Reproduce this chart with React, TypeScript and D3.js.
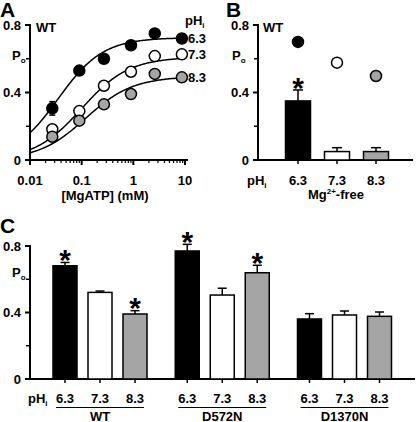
import React from "react";
import * as d3 from "d3";

// Panel A data
const atpConc = [0.027, 0.09, 0.27, 0.9, 2.6, 8.7];
const phLabels = ["6.3", "7.3", "8.3"];
const poA63 = [0.306, 0.53, 0.6, 0.68, 0.75, 0.72];
const poA73 = [0.182, 0.29, 0.44, 0.523, 0.616, 0.626];
const poA83 = [0.138, 0.233, 0.33, 0.391, 0.51, 0.49];
const errA63 = [0.04, 0, 0, 0, 0, 0];
const errA73 = [0, 0, 0, 0, 0, 0];
const errA83 = [0, 0, 0, 0, 0.025, 0];
// Hill fit parameters per pH: Pmax, Kd (mM), Hill coefficient
const fitPmax = [0.725, 0.61, 0.495];
const fitK = [0.035, 0.1, 0.12];
const fitN = [1.0, 0.95, 0.95];

// Panel B data (Mg2+-free)
const poBBars = [0.35, 0.05, 0.05];
const errBBars = [0.065, 0.023, 0.023];
const poBRef = [0.7, 0.577, 0.498];
const sigB = [true, false, false];

// Panel C data
const groupsC = ["WT", "D572N", "D1370N"];
const poC = [
  [0.681, 0.521, 0.391],
  [0.77, 0.505, 0.639],
  [0.361, 0.385, 0.377],
];
const errC = [
  [0.02, 0.008, 0.02],
  [0.04, 0.041, 0.045],
  [0.032, 0.024, 0.026],
];
const sigC = [
  [true, false, true],
  [true, false, true],
  [false, false, false],
];

const yTicksMajor = [0, 0.4, 0.8];
const yTicksMinor = [0.2, 0.6];
const fills = ["#000000", "#ffffff", "#a5a5a5"];

const FONT = "'Liberation Sans', Arial, Helvetica, sans-serif";

function YAxis({ y, x0, x1 }: { y: d3.ScaleLinear<number, number>; x0: number; x1: number }) {
  return (
    <g>
      <line x1={x0} x2={x0} y1={y(0)} y2={y(0.8) - 1} stroke="#000" strokeWidth={2} />
      <line x1={x0 - 1} x2={x1} y1={y(0)} y2={y(0)} stroke="#000" strokeWidth={2} />
      {yTicksMajor.map((t) => (
        <g key={"M" + t}>
          <line x1={x0 - 5} x2={x0} y1={y(t)} y2={y(t)} stroke="#000" strokeWidth={2} />
          <text x={x0 - 9} y={y(t) + 4.5} textAnchor="end" fontSize={13} fontWeight="bold">
            {t === 0 ? "0" : t.toFixed(1)}
          </text>
        </g>
      ))}
      {yTicksMinor.map((t) => (
        <line key={"m" + t} x1={x0 - 4} x2={x0} y1={y(t)} y2={y(t)} stroke="#000" strokeWidth={1.5} />
      ))}
    </g>
  );
}

function PoLabel({ x, y }: { x: number; y: number }) {
  return (
    <text x={x} y={y} fontSize={13} fontWeight="bold">
      P<tspan fontSize={8} dy={3}>o</tspan>
    </text>
  );
}

function Asterisk({ x, cy }: { x: number; cy: number }) {
  return (
    <text x={x} y={cy + 15} textAnchor="middle" fontSize={30} fontWeight="bold">
      *
    </text>
  );
}

export default function App() {
  // Panel A
  const xA = d3.scaleLog().domain([0.01, 10]).range([30, 185]);
  const yA = d3.scaleLinear().domain([0, 0.8]).range([160, 25]);
  const seriesA = [poA63, poA73, poA83];
  const errsA = [errA63, errA73, errA83];
  const fitX = d3.range(0, 121).map((i) => 0.01 * Math.pow(10, (i / 120) * Math.log10(9.2 / 0.01)));
  const line = d3
    .line<number>()
    .x((d) => xA(d))
    .curve(d3.curveLinear);
  const logTicks = xA.ticks();

  // Panel B
  const xB = d3.scalePoint<string>().domain(phLabels).range([298, 376]);
  const yB = yA;
  const bwB = 25;

  // Panel C
  const xCg = d3.scalePoint<string>().domain(groupsC).range([100, 344.5]);
  const xCi = d3.scalePoint<string>().domain(phLabels).range([-35, 35]);
  const yC = d3.scaleLinear().domain([0, 0.8]).range([379, 246]);
  const bwC = 24;

  return (
    <svg width={416} height={422} style={{ position: "absolute", left: 0, top: 0 }} fontFamily={FONT}>
      <rect width={416} height={422} fill="#fff" />
      {/* ---------- Panel A ---------- */}
      <text x={0} y={16.5} fontSize={21} fontWeight="bold">A</text>
      <text x={36} y={32} fontSize={13} fontWeight="bold">WT</text>
      <PoLabel x={12} y={60} />
      <YAxis y={yA} x0={30} x1={188} />
      {logTicks.map((t, i) => {
        const major = Math.abs(Math.log10(t) - Math.round(Math.log10(t))) < 1e-6;
        return (
          <line key={i} x1={xA(t)} x2={xA(t)} y1={yA(0)} y2={yA(0) + (major ? 5 : 3)} stroke="#000" strokeWidth={major ? 2 : 1.2} />
        );
      })}
      {[0.01, 0.1, 1, 10].map((t) => (
        <text key={t} x={xA(t)} y={185} textAnchor="middle" fontSize={13} fontWeight="bold">
          {String(t)}
        </text>
      ))}
      <text x={105} y={200} textAnchor="middle" fontSize={13} fontWeight="bold">[MgATP] (mM)</text>
      {seriesA.map((_, k) => {
        const path = line.y((d) => yA((fitPmax[k] * Math.pow(d, fitN[k])) / (Math.pow(d, fitN[k]) + Math.pow(fitK[k], fitN[k]))))(fitX);
        return <path key={"fit" + k} d={path || ""} fill="none" stroke="#000" strokeWidth={1.5} />;
      })}
      {seriesA.map((s, k) =>
        s.map((v, i) => (
          <g key={"pt" + k + "-" + i}>
            {errsA[k][i] > 0 && (
              <g stroke="#000" strokeWidth={1.5}>
                <line x1={xA(atpConc[i])} x2={xA(atpConc[i])} y1={yA(v - errsA[k][i])} y2={yA(v + errsA[k][i])} />
                <line x1={xA(atpConc[i]) - 3} x2={xA(atpConc[i]) + 3} y1={yA(v + errsA[k][i])} y2={yA(v + errsA[k][i])} />
                <line x1={xA(atpConc[i]) - 3} x2={xA(atpConc[i]) + 3} y1={yA(v - errsA[k][i])} y2={yA(v - errsA[k][i])} />
              </g>
            )}
            <circle cx={xA(atpConc[i])} cy={yA(v)} r={5.5} fill={fills[k]} stroke="#000" strokeWidth={1.5} />
          </g>
        ))
      )}
      <text x={185} y={25} fontSize={13} fontWeight="bold">
        pH<tspan fontSize={8} dy={3}>i</tspan>
      </text>
      {phLabels.map((p, k) => (
        <text key={"lbl" + p} x={188} y={yA(seriesA[k][5]) + 4.5} fontSize={13} fontWeight="bold">{p}</text>
      ))}

      {/* ---------- Panel B ---------- */}
      <text x={226} y={16.5} fontSize={21} fontWeight="bold">B</text>
      <text x={263} y={32} fontSize={13} fontWeight="bold">WT</text>
      <PoLabel x={232} y={60} />
      <YAxis y={yB} x0={258} x1={413} />
      {phLabels.map((p, k) => {
        const cx = xB(p) as number;
        const top = yB(poBBars[k]);
        const et = yB(poBBars[k] + errBBars[k]);
        return (
          <g key={"b" + p}>
            <line x1={cx} x2={cx} y1={et} y2={top} stroke="#000" strokeWidth={1.5} />
            <line x1={cx - 5} x2={cx + 5} y1={et} y2={et} stroke="#000" strokeWidth={1.5} />
            <rect x={cx - bwB / 2} y={top} width={bwB} height={yB(0) - top} fill={fills[k]} stroke="#000" strokeWidth={1.5} />
            <line x1={cx} x2={cx} y1={yB(0)} y2={yB(0) + 4} stroke="#000" strokeWidth={1.5} />
            <circle cx={cx} cy={yB(poBRef[k])} r={5.5} fill={fills[k]} stroke="#000" strokeWidth={1.5} />
            {sigB[k] && <Asterisk x={cx} cy={et - 7} />}
            <text x={cx} y={185} textAnchor="middle" fontSize={13} fontWeight="bold">{p}</text>
          </g>
        );
      })}
      <text x={247} y={185} fontSize={13} fontWeight="bold">
        pH<tspan fontSize={8} dy={3}>i</tspan>
      </text>
      <text x={336} y={199} textAnchor="middle" fontSize={13} fontWeight="bold">
        Mg<tspan fontSize={8} dy={-5}>2+</tspan><tspan dy={5}>-free</tspan>
      </text>

      {/* ---------- Panel C ---------- */}
      <text x={0} y={233} fontSize={21} fontWeight="bold">C</text>
      <PoLabel x={12} y={277} />
      <YAxis y={yC} x0={30} x1={415} />
      <text x={28} y={403} fontSize={13} fontWeight="bold">
        pH<tspan fontSize={8} dy={3}>i</tspan>
      </text>
      {groupsC.map((g, gi) => {
        const gc = xCg(g) as number;
        return (
          <g key={"g" + g}>
            {phLabels.map((p, k) => {
              const cx = gc + (xCi(p) as number);
              const v = poC[gi][k];
              const top = yC(v);
              const et = yC(v + errC[gi][k]);
              return (
                <g key={"c" + g + p}>
                  <line x1={cx} x2={cx} y1={et} y2={top} stroke="#000" strokeWidth={1.5} />
                  <line x1={cx - 4.5} x2={cx + 4.5} y1={et} y2={et} stroke="#000" strokeWidth={1.5} />
                  <rect x={cx - bwC / 2} y={top} width={bwC} height={yC(0) - top} fill={fills[k]} stroke="#000" strokeWidth={1.5} />
                  <line x1={cx} x2={cx} y1={yC(0)} y2={yC(0) + 4} stroke="#000" strokeWidth={1.5} />
                  {sigC[gi][k] && <Asterisk x={cx} cy={et - 7.5} />}
                  <text x={cx} y={403} textAnchor="middle" fontSize={13} fontWeight="bold">{p}</text>
                </g>
              );
            })}
            <line x1={gc - 44} x2={gc + 44} y1={407.5} y2={407.5} stroke="#000" strokeWidth={1} />
            <text x={gc} y={420.5} textAnchor="middle" fontSize={13} fontWeight="bold">{g}</text>
          </g>
        );
      })}
    </svg>
  );
}
